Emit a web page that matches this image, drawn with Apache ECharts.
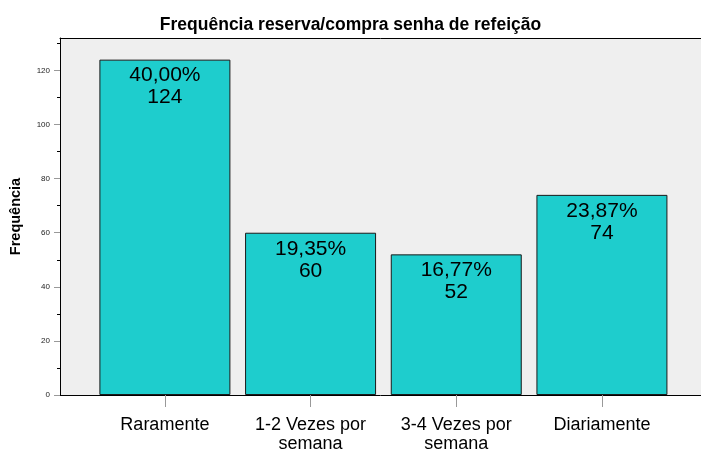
<!DOCTYPE html>
<html>
<head>
<meta charset="utf-8">
<script src="https://cdn.jsdelivr.net/npm/echarts@6/dist/echarts.min.js"></script>
<style>
    html, body { margin: 0; padding: 0; background: #fff; }
    #chart { width: 701px; height: 452px; }
</style>
</head>
<body>
<div id="chart"></div>
<script>
// 数据
const categories = ['Raramente', '1-2 Vezes por\nsemana', '3-4 Vezes por\nsemana', 'Diariamente'];
const counts = [124, 60, 52, 74];
const percents = ['40,00%', '19,35%', '16,77%', '23,87%'];
const yTicks = [0, 20, 40, 60, 80, 100, 120];
const yMinorTicks = [10, 30, 50, 70, 90, 110, 130];

const font = '"Liberation Sans", Arial, sans-serif';
const positions = categories.map(function (c, i) { return i; });

const chart = echarts.init(document.getElementById('chart'));
chart.setOption({
    animation: false,
    textStyle: { fontFamily: font },
    title: {
        text: 'Frequência reserva/compra senha de refeição',
        left: 'center',
        top: 11,
        textStyle: { fontSize: 17.5, fontWeight: 'bold', color: '#000', fontFamily: font }
    },
    grid: {
        left: 60, right: 0, top: 38, bottom: 57,
        outerBoundsMode: 'none',
        containLabel: false,
        show: true,
        backgroundColor: '#efefef',
        borderWidth: 0
    },
    xAxis: [{
        type: 'value',
        position: 'bottom',
        min: -0.72,
        max: 3.68,
        splitLine: { show: false },
        axisLine: { show: true, onZero: false, lineStyle: { color: '#000', width: 1 } },
        axisTick: { show: true, customValues: positions, length: 12, lineStyle: { color: '#999' } },
        axisLabel: {
            customValues: positions,
            formatter: function (v) { return categories[Math.round(v)]; },
            fontSize: 18,
            lineHeight: 19,
            color: '#000',
            margin: 21
        }
    }, {
        type: 'value',
        position: 'top',
        min: -0.72,
        max: 3.68,
        splitLine: { show: false },
        axisLine: { show: true, onZero: false, lineStyle: { color: '#000', width: 1 } },
        axisTick: { show: false },
        axisLabel: { show: false }
    }],
    yAxis: [{
        type: 'value',
        position: 'left',
        min: 0,
        max: 132,
        name: 'Frequência',
        nameLocation: 'middle',
        nameGap: 37,
        nameTextStyle: { fontSize: 14.5, fontWeight: 'bold', color: '#000' },
        splitLine: { show: false },
        axisLine: { show: true, onZero: false, lineStyle: { color: '#000', width: 1 } },
        axisTick: { show: true, customValues: yTicks, length: 6, lineStyle: { color: '#999' } },
        axisLabel: { customValues: yTicks, fontSize: 8, color: '#222', margin: 10 }
    }, {
        type: 'value',
        position: 'left',
        min: 0,
        max: 132,
        splitLine: { show: false },
        axisLine: { show: false, onZero: false },
        axisTick: { show: true, customValues: yMinorTicks, length: 3, lineStyle: { color: '#000' } },
        axisLabel: { show: false }
    }],
    series: [{
        type: 'bar',
        xAxisIndex: 0,
        yAxisIndex: 0,
        barWidth: 131,
        data: counts.map(function (v, i) { return [i, v]; }),
        itemStyle: { color: '#1ecdcd', borderColor: '#1a1a1a', borderWidth: 1 },
        label: {
            show: true,
            position: 'insideTop',
            distance: 5,
            fontSize: 21,
            lineHeight: 22,
            color: '#000',
            formatter: function (p) { return percents[p.dataIndex] + '\n' + p.value[1]; }
        }
    }]
});
</script>
</body>
</html>
